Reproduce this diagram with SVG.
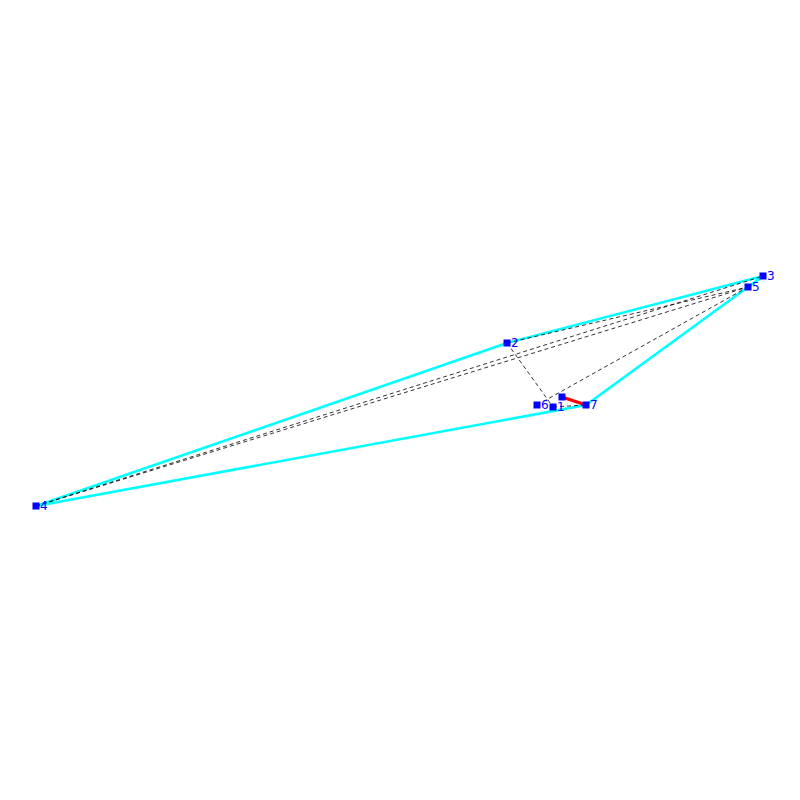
<svg xmlns="http://www.w3.org/2000/svg" width="800" height="800" viewBox="0 0 800 800">
<style>
.cy{stroke:#00ffff;stroke-width:2.6;fill:none}
.da{stroke:#000;stroke-width:0.8;stroke-dasharray:4,3;fill:none}
.rd{stroke:#ff0000;stroke-width:3}
.nd{fill:#0000ff}
.lb{fill:#0000ff;font-family:"DejaVu Sans",sans-serif;font-size:12px}
</style>
<rect width="800" height="800" fill="#fff"/>
<g id="connectors">
<polyline class="cy" points="36,506 507,343 763,276 748,287 586,405 36,506"/>
<line class="da" x1="36" y1="506" x2="763" y2="276"/>
<line class="da" x1="36" y1="506" x2="748" y2="287"/>
<line class="da" x1="507" y1="343" x2="748" y2="287"/>
<line class="da" x1="507" y1="343" x2="553" y2="407"/>
<line class="da" x1="537" y1="405" x2="748" y2="287"/>
<line class="da" x1="553" y1="407" x2="586" y2="405"/>
<line class="rd" x1="562" y1="397" x2="586" y2="405"/>
</g>
<g id="node0"><rect class="nd" x="558.5" y="393.5" width="7" height="7"/></g>
<g id="node1"><rect class="nd" x="549.5" y="403.5" width="7" height="7"/><text class="lb" x="557" y="411">1</text></g>
<g id="node2"><rect class="nd" x="503.5" y="339.5" width="7" height="7"/><text class="lb" x="511" y="347">2</text></g>
<g id="node3"><rect class="nd" x="759.5" y="272.5" width="7" height="7"/><text class="lb" x="767" y="280">3</text></g>
<g id="node4"><rect class="nd" x="32.5" y="502.5" width="7" height="7"/><text class="lb" x="40" y="510">4</text></g>
<g id="node5"><rect class="nd" x="744.5" y="283.5" width="7" height="7"/><text class="lb" x="752" y="291">5</text></g>
<g id="node6"><rect class="nd" x="533.5" y="401.5" width="7" height="7"/><text class="lb" x="541" y="409">6</text></g>
<g id="node7"><rect class="nd" x="582.5" y="401.5" width="7" height="7"/><text class="lb" x="590" y="409">7</text></g>
</svg>
